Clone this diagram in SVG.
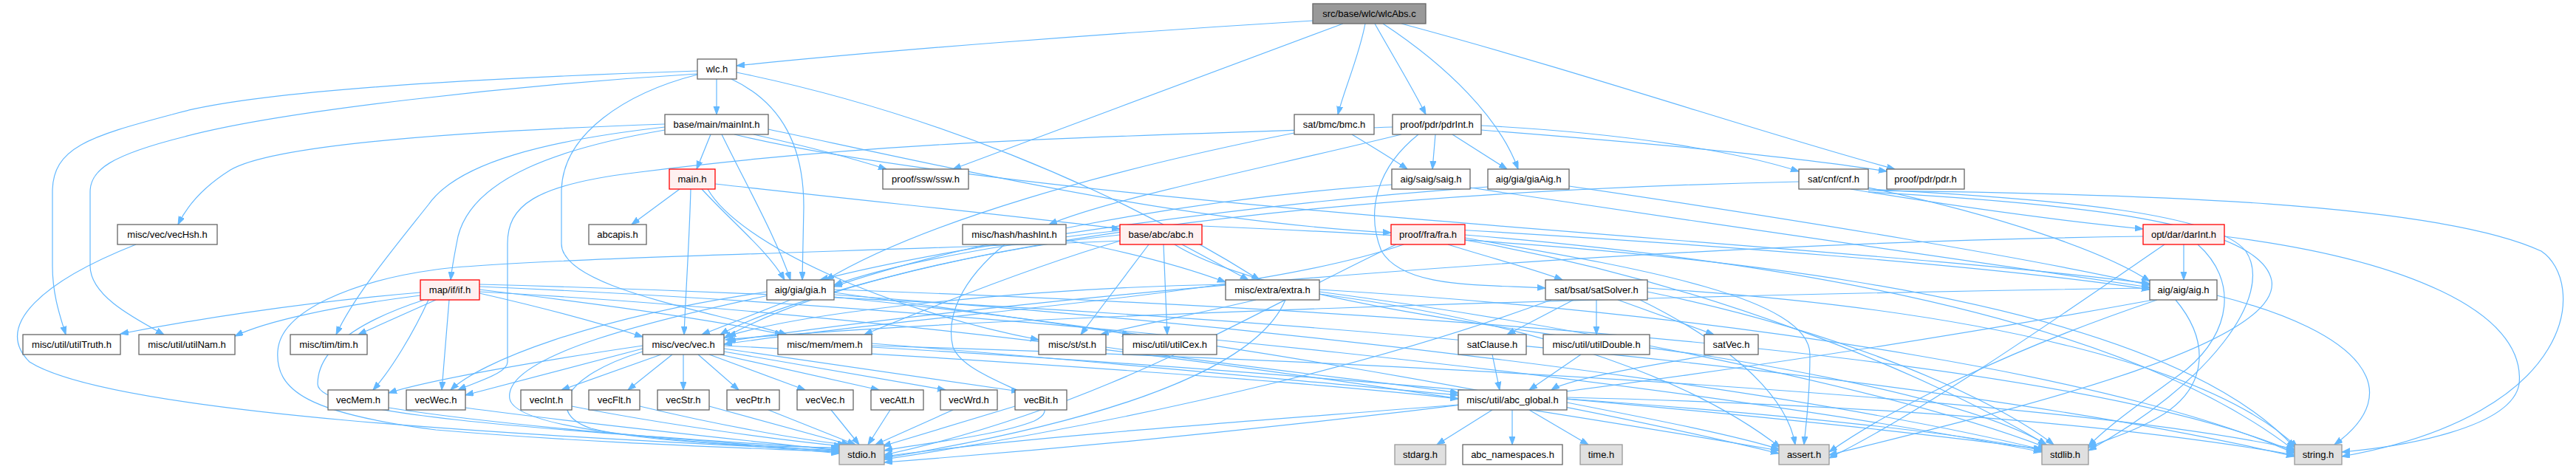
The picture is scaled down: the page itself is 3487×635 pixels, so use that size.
<svg xmlns="http://www.w3.org/2000/svg" width="3487" height="635" viewBox="0 0 3487 635">
<style>
.e{fill:none;stroke:#63b8ff;stroke-width:1.2;marker-end:url(#ah)}
rect{stroke-width:1.3}
.n rect{fill:#ffffff;stroke:#666666}
.r rect{fill:#fff0f0;stroke:#ff0000}
.s rect{fill:#e0e0e0;stroke:#999999}
.root rect{fill:#999999;stroke:#666666}
text{font-family:"Liberation Sans",Arial,sans-serif;font-size:13px;text-anchor:middle;fill:#000000}
</style>
<defs>
<marker id="ah" markerUnits="userSpaceOnUse" markerWidth="12" markerHeight="9" refX="11" refY="4" orient="auto">
<path d="M0,0 L11,4 L0,8 z" fill="#63b8ff" stroke="#63b8ff"/>
</marker>
</defs>
<rect width="3487" height="635" fill="#ffffff"/>
<g id="connectors">
<path class="e" d="M1777,28 C1500,45 1200,68 997,89"/>
<path class="e" d="M1818,32 C1700,75 1450,170 1290,229"/>
<path class="e" d="M1848,32 C1840,75 1820,120 1811,155"/>
<path class="e" d="M1861,32 C1885,75 1910,115 1930,155"/>
<path class="e" d="M1872,32 C1960,90 2030,160 2055,229"/>
<path class="e" d="M1897,32 C2150,100 2400,185 2565,229"/>
<path class="e" d="M970,107 L970,155"/>
<path class="e" d="M944,96 C700,104 350,120 233,155 C120,185 71,200 71,260 L71,360 C71,400 82,430 89,453"/>
<path class="e" d="M944,100 C700,115 380,150 250,185 C150,210 122,230 122,260 L122,360 C122,400 180,430 222,453"/>
<path class="e" d="M944,101 C850,125 760,180 760,260 L760,330 C760,390 960,420 1065,453"/>
<path class="e" d="M990,107 C1060,140 1088,200 1088,280 L1086,379"/>
<path class="e" d="M997,98 C1250,150 1500,250 1705,379"/>
<path class="e" d="M962,182 L943,229"/>
<path class="e" d="M900,168 C700,175 380,190 312,230 C280,250 255,275 241,304"/>
<path class="e" d="M900,172 C740,190 620,220 580,277 C530,340 480,400 455,453"/>
<path class="e" d="M900,176 C760,200 640,240 620,320 C615,345 612,360 610,379"/>
<path class="e" d="M1020,182 C1100,200 1150,213 1200,229"/>
<path class="e" d="M977,182 C1010,250 1050,320 1070,379"/>
<path class="e" d="M1040,175 C1300,230 1600,300 1883,315"/>
<path class="e" d="M994,182 C1400,280 2500,330 2910,384"/>
<path class="e" d="M920,256 L855,304"/>
<path class="e" d="M968,249 C1200,275 1400,295 1516,310"/>
<path class="e" d="M935,256 C933,330 928,400 926,453"/>
<path class="e" d="M950,256 C990,300 1040,340 1062,379"/>
<path class="e" d="M958,256 C1000,330 1200,420 1406,460"/>
<path class="e" d="M1830,182 C1860,200 1885,215 1905,229"/>
<path class="e" d="M1752,180 C1500,230 1250,300 1118,379"/>
<path class="e" d="M1943,182 L1939,229"/>
<path class="e" d="M1966,182 L2040,229"/>
<path class="e" d="M2005,170 C2200,180 2350,205 2435,232"/>
<path class="e" d="M2005,176 C2250,195 2450,215 2554,232"/>
<path class="e" d="M1897,182 C1700,230 1500,270 1420,304"/>
<path class="e" d="M1920,182 C1860,230 1850,290 1870,340 C1900,390 2000,385 2092,390"/>
<path class="e" d="M1885,172 C1500,185 1200,190 866,233 C720,250 687,280 687,330 L687,490 C687,505 650,515 620,528"/>
<path class="e" d="M1990,254 C2300,300 2700,360 2910,389"/>
<path class="e" d="M1884,250 C1600,270 1300,330 1129,388"/>
<path class="e" d="M2124,252 C2450,300 2750,350 2910,386"/>
<path class="e" d="M2014,253 C1700,275 1300,330 1110,379"/>
<path class="e" d="M2505,256 C2650,280 2800,300 2901,310"/>
<path class="e" d="M2529,254 C2700,290 2850,340 2910,381"/>
<path class="e" d="M2435,246 C1800,260 1200,330 980,458"/>
<path class="e" d="M2529,256 C2800,270 3000,290 3040,340 C3080,400 2990,520 2827,610"/>
<path class="e" d="M2529,258 C2900,262 3300,275 3440,340 C3500,380 3495,560 3170,618"/>
<path class="e" d="M2529,260 C2800,275 3060,300 3075,380 C3090,470 2700,560 2476,616"/>
<path class="e" d="M2956,331 L2956,379"/>
<path class="e" d="M2901,320 C2200,330 1400,400 985,462"/>
<path class="e" d="M2975,331 C3030,380 3020,450 2960,500 C2920,530 2860,570 2827,604"/>
<path class="e" d="M3011,320 C3250,350 3420,420 3410,520 C3400,580 3250,605 3170,612"/>
<path class="e" d="M2930,331 C2800,420 2600,560 2476,620"/>
<path class="e" d="M1516,312 C1350,330 1200,360 1129,386"/>
<path class="e" d="M1516,318 C1300,340 1050,410 975,453"/>
<path class="e" d="M1520,325 C1400,360 1250,420 1170,453"/>
<path class="e" d="M1555,331 L1463,453"/>
<path class="e" d="M1575,331 L1580,453"/>
<path class="e" d="M1600,331 L1690,379"/>
<path class="e" d="M1516,326 C1200,340 700,350 590,365 C480,380 380,420 376,475 C372,530 420,560 590,582 C800,600 1000,606 1136,612"/>
<path class="e" d="M1590,331 C1700,400 2000,440 2300,480 C2550,520 2700,560 2770,602"/>
<path class="e" d="M1627,306 C2200,330 2900,380 3106,606"/>
<path class="e" d="M1360,331 C1300,380 1280,430 1290,470 C1310,520 1460,540 1400,570 C1350,590 1250,600 1197,610"/>
<path class="e" d="M1443,325 C1520,340 1600,360 1659,382"/>
<path class="e" d="M1900,331 C1700,400 1300,420 980,466"/>
<path class="e" d="M1955,310 C2300,330 2700,360 2910,392"/>
<path class="e" d="M1960,331 C2020,350 2080,365 2115,379"/>
<path class="e" d="M1890,331 C1700,420 1500,550 1197,616"/>
<path class="e" d="M1983,325 C2300,380 2600,500 2770,602"/>
<path class="e" d="M1983,318 C2500,360 2900,450 3106,610"/>
<path class="e" d="M1983,322 C2200,360 2450,400 2450,480 C2450,540 2445,570 2442,602"/>
<path class="e" d="M1700,406 C1620,425 1540,440 1490,453"/>
<path class="e" d="M1659,385 C1400,390 1100,420 985,455"/>
<path class="e" d="M1740,406 C1700,500 1500,570 1197,620"/>
<path class="e" d="M1786,395 C2200,450 2600,540 2770,606"/>
<path class="e" d="M1786,392 C2400,430 2900,520 3106,614"/>
<path class="e" d="M1786,398 C2100,440 2300,520 2410,606"/>
<path class="e" d="M2130,406 L2040,453"/>
<path class="e" d="M2161,406 L2161,453"/>
<path class="e" d="M2190,406 L2320,453"/>
<path class="e" d="M2100,406 C1900,480 1600,560 1197,622"/>
<path class="e" d="M2230,395 C2500,450 2700,540 2780,602"/>
<path class="e" d="M2230,390 C2700,420 3000,500 3110,606"/>
<path class="e" d="M2220,406 C2350,470 2420,540 2430,602"/>
<path class="e" d="M2020,480 L2030,528"/>
<path class="e" d="M2140,480 L2070,528"/>
<path class="e" d="M2320,480 C2200,500 2120,515 2100,528"/>
<path class="e" d="M2910,390 C2200,400 1300,430 982,460"/>
<path class="e" d="M2945,406 C2990,460 2990,520 2930,560 C2890,585 2850,595 2827,606"/>
<path class="e" d="M3001,400 C3200,450 3260,530 3160,602"/>
<path class="e" d="M2920,406 C2700,480 2550,560 2476,612"/>
<path class="e" d="M2915,406 C2400,500 1800,580 1197,626"/>
<path class="e" d="M1070,406 L950,453"/>
<path class="e" d="M1038,395 C800,430 650,490 610,528"/>
<path class="e" d="M1129,396 C1300,420 1450,440 1530,453"/>
<path class="e" d="M1040,400 C900,430 680,480 690,540 C700,590 1000,600 1136,614"/>
<path class="e" d="M1129,399 C1700,440 2400,520 2770,610"/>
<path class="e" d="M1129,392 C1900,420 2800,480 3106,612"/>
<path class="e" d="M1129,402 C1600,450 2100,540 2408,614"/>
<path class="e" d="M649,397 C750,420 820,440 870,456"/>
<path class="e" d="M649,392 C800,410 950,430 1060,453"/>
<path class="e" d="M590,406 L485,453"/>
<path class="e" d="M569,400 C450,415 360,435 318,455"/>
<path class="e" d="M569,396 C400,410 250,435 163,452"/>
<path class="e" d="M580,406 C560,450 530,500 505,528"/>
<path class="e" d="M608,406 L598,528"/>
<path class="e" d="M574,406 C470,440 430,480 430,520 C430,560 700,580 1136,608"/>
<path class="e" d="M649,388 C1400,420 2300,520 2764,612"/>
<path class="e" d="M649,385 C1600,410 2600,500 3106,618"/>
<path class="e" d="M649,395 C1300,430 2000,540 2408,610"/>
<path class="e" d="M184,331 C60,380 -10,440 40,490 C150,560 700,590 1136,610"/>
<path class="e" d="M895,480 L760,528"/>
<path class="e" d="M910,480 L850,528"/>
<path class="e" d="M925,480 L925,528"/>
<path class="e" d="M945,480 L1000,528"/>
<path class="e" d="M960,480 L1090,528"/>
<path class="e" d="M975,480 L1190,528"/>
<path class="e" d="M980,476 L1280,528"/>
<path class="e" d="M980,472 L1380,530"/>
<path class="e" d="M870,468 C720,490 580,515 526,532"/>
<path class="e" d="M870,472 L630,535"/>
<path class="e" d="M980,468 C1400,490 1800,520 1974,540"/>
<path class="e" d="M870,476 C760,510 740,560 800,580 C880,600 1050,605 1136,606"/>
<path class="e" d="M526,552 C700,580 1000,600 1136,612"/>
<path class="e" d="M630,552 C800,575 1000,595 1136,610"/>
<path class="e" d="M774,550 C900,575 1050,595 1140,604"/>
<path class="e" d="M866,550 C970,575 1080,595 1145,602"/>
<path class="e" d="M960,550 L1150,602"/>
<path class="e" d="M1040,555 L1158,602"/>
<path class="e" d="M1125,555 L1163,602"/>
<path class="e" d="M1205,555 L1175,602"/>
<path class="e" d="M1290,555 L1185,602"/>
<path class="e" d="M1374,550 L1195,604"/>
<path class="e" d="M1180,465 C1500,490 1800,520 1974,535"/>
<path class="e" d="M1180,470 C1700,500 2400,560 2764,608"/>
<path class="e" d="M1180,468 C1900,490 2800,540 3106,608"/>
<path class="e" d="M1497,470 C1700,500 1900,520 1974,532"/>
<path class="e" d="M2020,555 L1945,602"/>
<path class="e" d="M2047,555 L2047,602"/>
<path class="e" d="M2070,555 L2150,602"/>
<path class="e" d="M1974,548 C1700,570 1400,590 1197,618"/>
<path class="e" d="M2121,540 C2400,560 2650,585 2764,610"/>
<path class="e" d="M2121,545 C2250,570 2350,590 2408,608"/>
<path class="e" d="M2121,538 C2600,550 2900,580 3106,616"/>
</g>
<g id="n_wlcAbs" class="root"><rect x="1777" y="5" width="153" height="27"/><text x="1853.5" y="23">src/base/wlc/wlcAbs.c</text></g>
<g id="n_wlc" class="n"><rect x="944" y="80" width="53" height="27"/><text x="970.5" y="98">wlc.h</text></g>
<g id="n_mainInt" class="n"><rect x="900" y="155" width="140" height="27"/><text x="970" y="173">base/main/mainInt.h</text></g>
<g id="n_bmc" class="n"><rect x="1752" y="155" width="108" height="27"/><text x="1806" y="173">sat/bmc/bmc.h</text></g>
<g id="n_pdrInt" class="n"><rect x="1885" y="155" width="120" height="27"/><text x="1945" y="173">proof/pdr/pdrInt.h</text></g>
<g id="n_main" class="r"><rect x="906" y="229" width="62" height="27"/><text x="937" y="247">main.h</text></g>
<g id="n_ssw" class="n"><rect x="1195" y="229" width="116" height="27"/><text x="1253" y="247">proof/ssw/ssw.h</text></g>
<g id="n_saig" class="n"><rect x="1884" y="229" width="106" height="27"/><text x="1937" y="247">aig/saig/saig.h</text></g>
<g id="n_giaAig" class="n"><rect x="2014" y="229" width="110" height="27"/><text x="2069" y="247">aig/gia/giaAig.h</text></g>
<g id="n_cnf" class="n"><rect x="2435" y="229" width="94" height="27"/><text x="2482" y="247">sat/cnf/cnf.h</text></g>
<g id="n_pdr" class="n"><rect x="2554" y="229" width="105" height="27"/><text x="2606.5" y="247">proof/pdr/pdr.h</text></g>
<g id="n_vecHsh" class="n"><rect x="159" y="304" width="135" height="27"/><text x="226.5" y="322">misc/vec/vecHsh.h</text></g>
<g id="n_abcapis" class="n"><rect x="797" y="304" width="78" height="27"/><text x="836" y="322">abcapis.h</text></g>
<g id="n_hashInt" class="n"><rect x="1303" y="304" width="140" height="27"/><text x="1373" y="322">misc/hash/hashInt.h</text></g>
<g id="n_abc" class="r"><rect x="1516" y="304" width="111" height="27"/><text x="1571.5" y="322">base/abc/abc.h</text></g>
<g id="n_fra" class="r"><rect x="1883" y="304" width="100" height="27"/><text x="1933" y="322">proof/fra/fra.h</text></g>
<g id="n_darInt" class="r"><rect x="2901" y="304" width="110" height="27"/><text x="2956" y="322">opt/dar/darInt.h</text></g>
<g id="n_if" class="r"><rect x="569" y="379" width="80" height="27"/><text x="609" y="397">map/if/if.h</text></g>
<g id="n_gia" class="n"><rect x="1038" y="379" width="91" height="27"/><text x="1083.5" y="397">aig/gia/gia.h</text></g>
<g id="n_extra" class="n"><rect x="1659" y="379" width="127" height="27"/><text x="1722.5" y="397">misc/extra/extra.h</text></g>
<g id="n_satSolver" class="n"><rect x="2092" y="379" width="138" height="27"/><text x="2161" y="397">sat/bsat/satSolver.h</text></g>
<g id="n_aig" class="n"><rect x="2910" y="379" width="91" height="27"/><text x="2955.5" y="397">aig/aig/aig.h</text></g>
<g id="n_utilTruth" class="n"><rect x="31" y="453" width="132" height="27"/><text x="97" y="471">misc/util/utilTruth.h</text></g>
<g id="n_utilNam" class="n"><rect x="188" y="453" width="130" height="27"/><text x="253" y="471">misc/util/utilNam.h</text></g>
<g id="n_tim" class="n"><rect x="393" y="453" width="104" height="27"/><text x="445" y="471">misc/tim/tim.h</text></g>
<g id="n_vec" class="n"><rect x="870" y="453" width="110" height="27"/><text x="925" y="471">misc/vec/vec.h</text></g>
<g id="n_mem" class="n"><rect x="1053" y="453" width="127" height="27"/><text x="1116.5" y="471">misc/mem/mem.h</text></g>
<g id="n_st" class="n"><rect x="1406" y="453" width="91" height="27"/><text x="1451.5" y="471">misc/st/st.h</text></g>
<g id="n_utilCex" class="n"><rect x="1520" y="453" width="127" height="27"/><text x="1583.5" y="471">misc/util/utilCex.h</text></g>
<g id="n_satClause" class="n"><rect x="1974" y="453" width="92" height="27"/><text x="2020" y="471">satClause.h</text></g>
<g id="n_utilDouble" class="n"><rect x="2089" y="453" width="144" height="27"/><text x="2161" y="471">misc/util/utilDouble.h</text></g>
<g id="n_satVec" class="n"><rect x="2307" y="453" width="73" height="27"/><text x="2343.5" y="471">satVec.h</text></g>
<g id="n_vecMem" class="n"><rect x="444" y="528" width="82" height="27"/><text x="485" y="546">vecMem.h</text></g>
<g id="n_vecWec" class="n"><rect x="550" y="528" width="80" height="27"/><text x="590" y="546">vecWec.h</text></g>
<g id="n_vecInt" class="n"><rect x="705" y="528" width="69" height="27"/><text x="739.5" y="546">vecInt.h</text></g>
<g id="n_vecFlt" class="n"><rect x="797" y="528" width="69" height="27"/><text x="831.5" y="546">vecFlt.h</text></g>
<g id="n_vecStr" class="n"><rect x="890" y="528" width="70" height="27"/><text x="925" y="546">vecStr.h</text></g>
<g id="n_vecPtr" class="n"><rect x="984" y="528" width="71" height="27"/><text x="1019.5" y="546">vecPtr.h</text></g>
<g id="n_vecVec" class="n"><rect x="1079" y="528" width="76" height="27"/><text x="1117" y="546">vecVec.h</text></g>
<g id="n_vecAtt" class="n"><rect x="1179" y="528" width="71" height="27"/><text x="1214.5" y="546">vecAtt.h</text></g>
<g id="n_vecWrd" class="n"><rect x="1273" y="528" width="77" height="27"/><text x="1311.5" y="546">vecWrd.h</text></g>
<g id="n_vecBit" class="n"><rect x="1374" y="528" width="70" height="27"/><text x="1409" y="546">vecBit.h</text></g>
<g id="n_abc_global" class="n"><rect x="1974" y="528" width="147" height="27"/><text x="2047.5" y="546">misc/util/abc_global.h</text></g>
<g id="n_stdio" class="s"><rect x="1136" y="602" width="61" height="27"/><text x="1166.5" y="620">stdio.h</text></g>
<g id="n_stdarg" class="s"><rect x="1888" y="602" width="69" height="27"/><text x="1922.5" y="620">stdarg.h</text></g>
<g id="n_abc_namespaces" class="n"><rect x="1980" y="602" width="135" height="27"/><text x="2047.5" y="620">abc_namespaces.h</text></g>
<g id="n_time" class="s"><rect x="2139" y="602" width="57" height="27"/><text x="2167.5" y="620">time.h</text></g>
<g id="n_assert" class="s"><rect x="2408" y="602" width="68" height="27"/><text x="2442" y="620">assert.h</text></g>
<g id="n_stdlib" class="s"><rect x="2764" y="602" width="63" height="27"/><text x="2795.5" y="620">stdlib.h</text></g>
<g id="n_string" class="s"><rect x="3106" y="602" width="64" height="27"/><text x="3138" y="620">string.h</text></g>
</svg>
